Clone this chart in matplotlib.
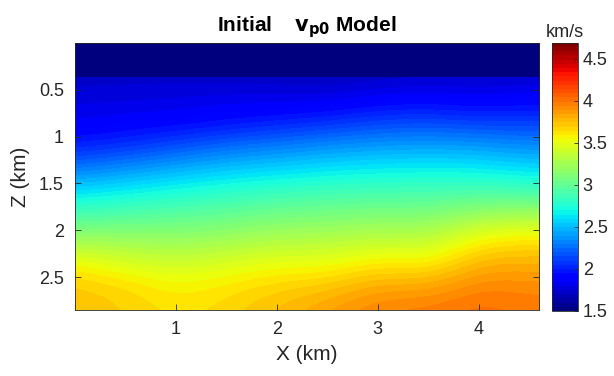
import numpy as np
import matplotlib
matplotlib.use("Agg")
import matplotlib.pyplot as plt
from matplotlib.ticker import FuncFormatter

plt.rcParams['font.family'] = ['Liberation Sans', 'DejaVu Sans']

# model extent (km)
x_max = 4.6
z_max = 2.85

# water layer
water_depth = 0.36
water_vp = 1.5

# sediment velocity (km/s)
x_km = [0.0, 0.5, 1.0, 1.5, 2.0, 2.5, 3.0, 3.5, 4.0, 4.5]
z_km = [0.35, 0.60, 0.85, 1.10, 1.35, 1.60, 1.85, 2.10, 2.35, 2.60, 2.85]
vp_sed = [
    [1.72, 1.72, 1.72, 1.71, 1.70, 1.68, 1.70, 1.72, 1.72, 1.73],
    [1.78, 1.79, 1.80, 1.82, 1.82, 1.82, 1.88, 1.90, 1.86, 1.90],
    [1.85, 1.88, 1.90, 1.95, 2.00, 2.05, 2.12, 2.14, 2.10, 2.10],
    [2.00, 2.06, 2.15, 2.24, 2.30, 2.36, 2.40, 2.42, 2.40, 2.35],
    [2.30, 2.38, 2.46, 2.54, 2.58, 2.63, 2.66, 2.67, 2.66, 2.60],
    [2.62, 2.68, 2.75, 2.80, 2.85, 2.88, 2.90, 2.90, 2.93, 2.90],
    [2.92, 2.96, 2.98, 3.02, 3.08, 3.10, 3.13, 3.12, 3.25, 3.28],
    [3.23, 3.22, 3.20, 3.24, 3.30, 3.30, 3.37, 3.33, 3.58, 3.62],
    [3.56, 3.45, 3.40, 3.45, 3.52, 3.50, 3.62, 3.56, 3.80, 3.80],
    [3.72, 3.66, 3.56, 3.62, 3.68, 3.72, 3.83, 3.82, 3.95, 3.92],
    [3.74, 3.70, 3.62, 3.67, 3.76, 3.85, 3.96, 3.97, 4.03, 3.98],
]

vmin, vmax = 1.5, 4.69
cbar_ticks = [1.5, 2, 2.5, 3, 3.5, 4, 4.5]

cmap = plt.get_cmap('jet', 64)

fig = plt.figure(figsize=(6.14, 3.76), dpi=100)
ax = fig.add_axes([0.122, 0.176, 0.756, 0.710])
cax = fig.add_axes([0.899, 0.173, 0.042, 0.713])

dx = (x_km[1] - x_km[0]) / 2
dz = (z_km[1] - z_km[0]) / 2
im = ax.imshow(np.array(vp_sed), cmap=cmap, vmin=vmin, vmax=vmax, aspect='auto',
               interpolation='bicubic', interpolation_stage='data',
               extent=[x_km[0] - dx, x_km[-1] + dx, z_km[-1] + dz, z_km[0] - dz])
ax.imshow(np.array([[water_vp]]), cmap=cmap, vmin=vmin, vmax=vmax, aspect='auto',
          interpolation='nearest', extent=[0, x_max, water_depth, 0], zorder=2)

ax.set_xlim(0, x_max)
ax.set_ylim(z_max, 0)
ax.set_xticks([1, 2, 3, 4])
ax.set_yticks([0.5, 1, 1.5, 2, 2.5])
fmt = FuncFormatter(lambda v, pos: "%g" % v)
ax.xaxis.set_major_formatter(fmt)
ax.yaxis.set_major_formatter(fmt)
ax.tick_params(direction='in', length=4, width=0.6, top=True, right=True,
               labelsize=13, colors='#262626', pad=8)
for s in ax.spines.values():
    s.set_linewidth(0.6)
    s.set_color('#262626')
ax.set_xlabel('X (km)', fontsize=15, color='#262626', labelpad=5)
ax.set_ylabel('Z (km)', fontsize=15, color='#262626', labelpad=6)
ax.set_title(r'Initial    $\mathbf{v_{p0}}$ Model', fontsize=15, fontweight='bold', pad=8)

cb = fig.colorbar(im, cax=cax, ticks=cbar_ticks)
cb.ax.yaxis.set_major_formatter(fmt)
cb.ax.tick_params(direction='in', length=3, width=0.6, labelsize=13, colors='#262626')
cb.outline.set_linewidth(0.6)
cb.outline.set_edgecolor('#262626')
cax.set_title('km/s', fontsize=13, color='#262626', pad=4)

fig.savefig('out.png', dpi=100)
